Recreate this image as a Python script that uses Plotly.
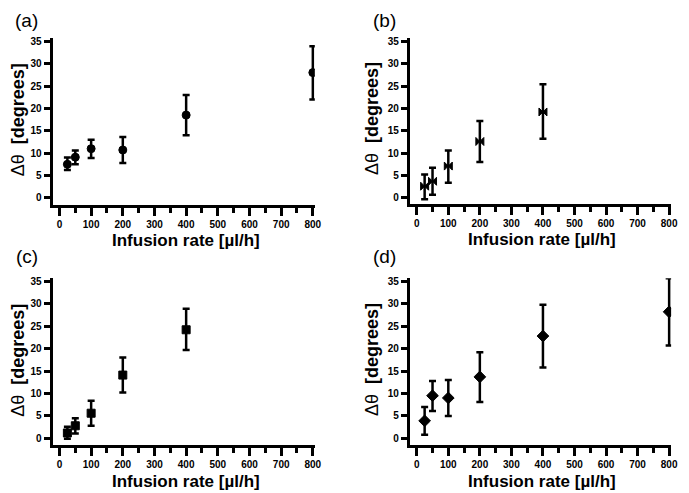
import plotly.graph_objects as go

# infusion rates [ul/h]
rate_a = [25, 50, 100, 200, 400, 800]
theta_a = [7.5, 9.1, 11.0, 10.7, 18.5, 28.0]
hi_a = [9.0, 10.6, 13.0, 13.6, 23.0, 33.9]
lo_a = [6.2, 7.5, 8.9, 7.8, 14.0, 22.0]

rate_b = [25, 50, 100, 200, 400]
theta_b = [2.6, 3.7, 7.1, 12.6, 19.2]
hi_b = [5.2, 6.7, 10.6, 17.2, 25.4]
lo_b = [-0.3, 0.7, 3.4, 8.0, 13.2]

rate_c = [25, 50, 100, 200, 400]
theta_c = [1.2, 2.8, 5.6, 14.1, 24.2]
hi_c = [2.6, 4.5, 8.4, 18.0, 28.9]
lo_c = [-0.1, 1.1, 2.8, 10.2, 19.7]

rate_d = [25, 50, 100, 200, 400, 800]
theta_d = [3.9, 9.5, 9.0, 13.7, 22.8, 28.2]
hi_d = [7.0, 12.8, 13.0, 19.2, 29.8, 35.7]
lo_d = [0.8, 6.1, 5.0, 8.1, 15.8, 20.7]

x_ticks = [0, 100, 200, 300, 400, 500, 600, 700, 800]
y_ticks = [0, 5, 10, 15, 20, 25, 30, 35]

# the page body has an 8px margin, so the figure is shrunk by that much
OFF = 8
W, H = 689 - OFF, 493 - OFF
FONT = "Liberation Sans, Arial, sans-serif"


def px_x(p):
    return (p - OFF) / W


def px_y(p):
    return 1 - (p - OFF) / H


panels = [
    # label, x, y, hi, lo, symbol, size, left, right, top, bottom, y0 tick, y35 tick (page px)
    ("(a)", rate_a, theta_a, hi_a, lo_a, "circle", 8, 53, 318, 35, 203, 196, 38.5),
    ("(b)", rate_b, theta_b, hi_b, lo_b, "bowtie", 8, 414, 678, 35, 202, 196, 38.5),
    ("(c)", rate_c, theta_c, hi_c, lo_c, "square", 8, 53, 318, 277, 445, 438, 280),
    ("(d)", rate_d, theta_d, hi_d, lo_d, "diamond", 9, 414, 678, 277, 445, 438, 280),
]

fig = go.Figure()
layout = dict(
    width=W, height=H,
    margin=dict(l=0, r=0, t=0, b=0),
    paper_bgcolor="white", plot_bgcolor="white",
    showlegend=False,
    font=dict(family=FONT, color="black"),
)
annotations = []

for i, (lab, xs, ys, hi, lo, sym, sz, l, r, t, b, y0, y35) in enumerate(panels):
    n = "" if i == 0 else str(i + 1)
    up = [h - v for h, v in zip(hi, ys)]
    dn = [v - q for v, q in zip(ys, lo)]
    fig.add_trace(go.Scatter(
        x=xs, y=ys, mode="markers",
        marker=dict(symbol=sym, size=sz, color="black",
                    line=dict(color="black", width=1)),
        error_y=dict(type="data", symmetric=False, array=up, arrayminus=dn,
                     color="black", thickness=2.5, width=3.5),
        xaxis="x" + n, yaxis="y" + n,
    ))
    # pixel scale of this panel
    x0px = l + 7
    xscale = (r - 2 - x0px) / 800.0
    yscale = (y0 - y35) / 35.0
    xr = [(l - x0px) / xscale, (r - x0px) / xscale]
    yr = [(y0 - b) / yscale, (y0 - t) / yscale]

    layout["xaxis" + n] = dict(
        domain=[px_x(l), px_x(r)], range=xr, anchor="y" + n,
        tickvals=x_ticks, ticks="outside", ticklen=8, tickwidth=3,
        tickcolor="black", showline=True, linewidth=3, linecolor="black",
        showgrid=False, zeroline=False,
        tickfont=dict(size=10, weight="bold", family=FONT),
        minor=dict(tickvals=[50, 150, 250, 350, 450, 550, 650, 750],
                   ticks="outside", ticklen=5, tickwidth=3, tickcolor="black"),
    )
    layout["yaxis" + n] = dict(
        domain=[px_y(b), px_y(t)], range=yr, anchor="x" + n,
        tickvals=y_ticks, ticks="outside", ticklen=6, tickwidth=2.5,
        tickcolor="black", showline=True, linewidth=3, linecolor="black",
        showgrid=False, zeroline=False,
        tickfont=dict(size=10, weight="bold", family=FONT),
    )
    # axis titles
    annotations.append(dict(
        text="<b>Infusion rate [µl/h]</b>", xref="paper", yref="paper",
        x=px_x((l + r) / 2 + 2), y=px_y(b + 36),
        showarrow=False, xanchor="center", yanchor="middle",
        font=dict(size=17, family=FONT),
    ))
    annotations.append(dict(
        text="Δθ  <b>[degrees]</b>", xref="paper", yref="paper",
        x=px_x(max(l - 38, OFF + 10)), y=px_y((t + b) / 2 - 2), textangle=-90,
        showarrow=False, xanchor="center", yanchor="middle",
        font=dict(size=18, family=FONT),
    ))
    annotations.append(dict(
        text=lab, xref="paper", yref="paper",
        x=px_x(l - 26), y=px_y(max(t - 22, OFF + 10)),
        showarrow=False, xanchor="center", yanchor="middle",
        font=dict(size=19, family=FONT),
    ))

layout["annotations"] = annotations
fig.update_layout(**layout)
fig.write_html("out.html")
